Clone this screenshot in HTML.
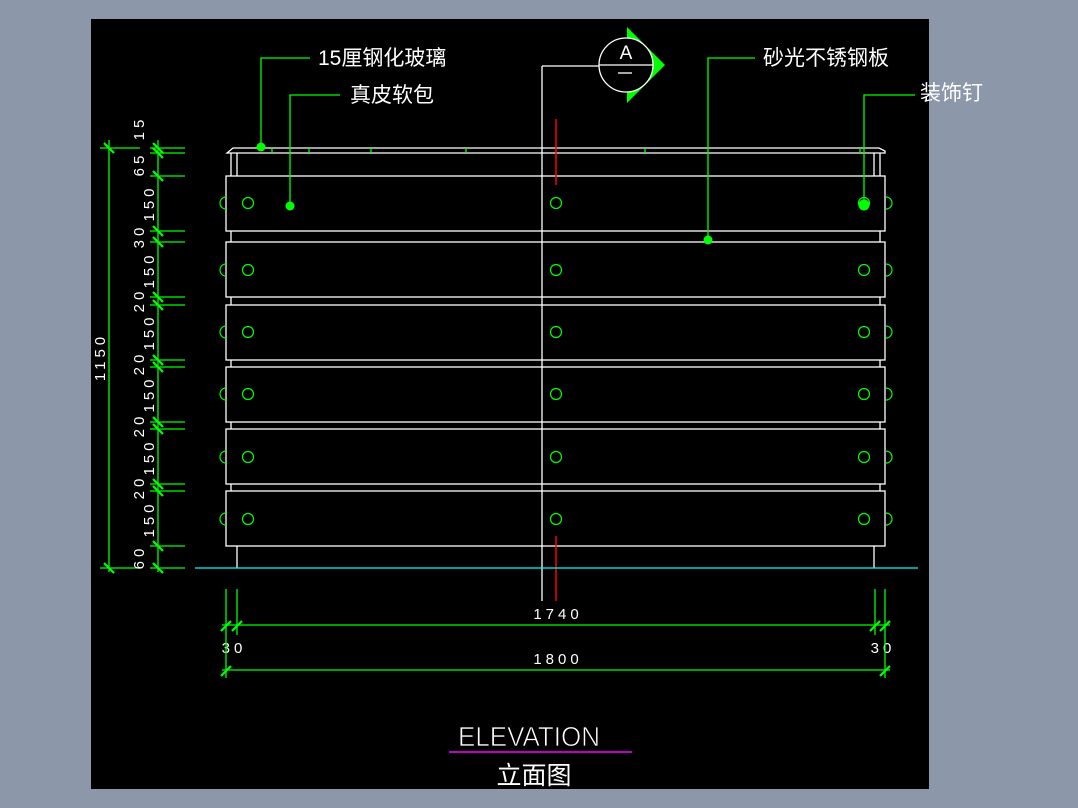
<!DOCTYPE html>
<html><head><meta charset="utf-8"><style>
html,body{margin:0;padding:0;background:#8c97a9;}
svg{display:block}
text{font-family:"Liberation Sans","Noto Sans CJK SC",sans-serif;fill:#fff}
.d{font-size:15px;letter-spacing:4px}
</style></head><body>
<svg width="1078" height="808" viewBox="0 0 1078 808" xmlns="http://www.w3.org/2000/svg">
<defs>
<g id="row"><circle cx="248" cy="0" r="5.5"/><circle cx="556" cy="0" r="5.5"/><circle cx="864" cy="0" r="5.5"/>
<path d="M226 -6 A6 6 0 0 0 226 6"/><path d="M886 -6 A6 6 0 0 1 886 6"/></g>
</defs>
<rect x="0" y="0" width="1078" height="808" fill="#8c97a9"/>
<rect x="91" y="19" width="838" height="770" fill="#000"/>
<g stroke="#fff" stroke-width="1.3" fill="none">
<path d="M227 153 L233 148 L879 148 L885 151 L885 153 Z"/>
<line x1="231" y1="153" x2="231" y2="176"/><line x1="237" y1="153" x2="237" y2="176"/>
<line x1="874" y1="153" x2="874" y2="176"/><line x1="880" y1="153" x2="880" y2="176"/>
<line x1="231" y1="231" x2="231" y2="242"/><line x1="880" y1="231" x2="880" y2="242"/>
<line x1="231" y1="297" x2="231" y2="305"/><line x1="880" y1="297" x2="880" y2="305"/>
<line x1="231" y1="360" x2="231" y2="367"/><line x1="880" y1="360" x2="880" y2="367"/>
<line x1="231" y1="422" x2="231" y2="429"/><line x1="880" y1="422" x2="880" y2="429"/>
<line x1="231" y1="484" x2="231" y2="491"/><line x1="880" y1="484" x2="880" y2="491"/>
<line x1="237" y1="546" x2="237" y2="568"/><line x1="874" y1="546" x2="874" y2="568"/>
<rect x="226" y="176" width="659" height="55"/>
<rect x="226" y="242" width="659" height="55"/>
<rect x="226" y="305" width="659" height="55"/>
<rect x="226" y="367" width="659" height="55"/>
<rect x="226" y="429" width="659" height="55"/>
<rect x="226" y="491" width="659" height="55"/>
<line x1="542" y1="66" x2="542" y2="601"/>
<line x1="542" y1="66" x2="650" y2="66"/>
</g>
<g stroke="#f00" stroke-width="1.5">
<line x1="556" y1="119" x2="556" y2="185"/><line x1="556" y1="536" x2="556" y2="601"/>
</g>
<line x1="195" y1="568" x2="918" y2="568" stroke="#0ff" stroke-width="1.3"/>
<g stroke="#0f0" stroke-width="1.3">
<line x1="272" y1="148" x2="272" y2="153"/><line x1="309" y1="148" x2="309" y2="153"/>
<line x1="371" y1="148" x2="371" y2="153"/><line x1="466" y1="148" x2="466" y2="153"/>
<line x1="645" y1="148" x2="645" y2="153"/><line x1="860" y1="148" x2="860" y2="153"/>
</g>
<g stroke="#0f0" stroke-width="1.2" fill="none">
<use href="#row" y="203"/><use href="#row" y="270"/><use href="#row" y="332"/>
<use href="#row" y="394"/><use href="#row" y="457"/><use href="#row" y="519"/>
</g>
<g stroke="#0f0" stroke-width="1.3" fill="none">
<polyline points="310,58 261,58 261,147"/>
<polyline points="340,95 290,95 290,206"/>
<polyline points="755,58 708,58 708,240"/>
<polyline points="915,95 864,95 864,205"/>
</g>
<g fill="#0f0"><circle cx="261" cy="147" r="4.5"/><circle cx="290" cy="206" r="4.5"/><circle cx="708" cy="240" r="4.5"/><circle cx="864" cy="205" r="5.5"/></g>
<text x="318" y="65" font-size="21">15厘钢化玻璃</text>
<text x="350" y="102" font-size="21">真皮软包</text>
<text x="763" y="65" font-size="21">砂光不锈钢板</text>
<text x="920" y="100" font-size="21">装饰钉</text>
<polygon points="627,27 665,65 627,103" fill="#0f0"/>
<circle cx="626" cy="65" r="27" fill="#000" stroke="#fff" stroke-width="1.3"/>
<line x1="599" y1="65" x2="654" y2="65" stroke="#fff" stroke-width="1.3"/>
<text x="626" y="59" font-size="19" text-anchor="middle" font-family="Liberation Serif,serif">A</text>
<line x1="618" y1="73" x2="632" y2="73" stroke="#fff" stroke-width="1.3"/>
<g stroke="#0f0" stroke-width="1.3">
<line x1="158" y1="140" x2="158" y2="572"/>
<line x1="109" y1="140" x2="109" y2="572"/>
<line x1="100" y1="148" x2="140" y2="148"/><line x1="100" y1="568" x2="140" y2="568"/>
<line x1="150" y1="148" x2="185" y2="148"/><line x1="150" y1="153" x2="185" y2="153"/>
<line x1="150" y1="176" x2="185" y2="176"/><line x1="150" y1="231" x2="185" y2="231"/>
<line x1="150" y1="242" x2="185" y2="242"/><line x1="150" y1="297" x2="185" y2="297"/>
<line x1="150" y1="305" x2="185" y2="305"/><line x1="150" y1="360" x2="185" y2="360"/>
<line x1="150" y1="367" x2="185" y2="367"/><line x1="150" y1="422" x2="185" y2="422"/>
<line x1="150" y1="429" x2="185" y2="429"/><line x1="150" y1="484" x2="185" y2="484"/>
<line x1="150" y1="491" x2="185" y2="491"/><line x1="150" y1="546" x2="185" y2="546"/>
<line x1="150" y1="568" x2="185" y2="568"/>
</g>
<g stroke="#0f0" stroke-width="2.2">
<path d="M153 143 l10 10 M153 148 l10 10 M153 171 l10 10 M153 226 l10 10 M153 237 l10 10 M153 292 l10 10 M153 300 l10 10 M153 355 l10 10 M153 362 l10 10 M153 417 l10 10 M153 424 l10 10 M153 479 l10 10 M153 486 l10 10 M153 541 l10 10 M153 563 l10 10 M104 143 l10 10 M104 563 l10 10"/>
<path d="M221 631 l10 -10 M232 631 l10 -10 M870 631 l10 -10 M880 631 l10 -10 M221 676 l10 -10 M880 676 l10 -10"/>
</g>
<g class="d">
<text transform="translate(144,128) rotate(-90)" text-anchor="middle">15</text>
<text transform="translate(144,164) rotate(-90)" text-anchor="middle">65</text>
<text transform="translate(154,203) rotate(-90)" text-anchor="middle">150</text>
<text transform="translate(144,236) rotate(-90)" text-anchor="middle">30</text>
<text transform="translate(154,270) rotate(-90)" text-anchor="middle">150</text>
<text transform="translate(144,300) rotate(-90)" text-anchor="middle">20</text>
<text transform="translate(154,332) rotate(-90)" text-anchor="middle">150</text>
<text transform="translate(144,363) rotate(-90)" text-anchor="middle">20</text>
<text transform="translate(154,394) rotate(-90)" text-anchor="middle">150</text>
<text transform="translate(144,425) rotate(-90)" text-anchor="middle">20</text>
<text transform="translate(154,457) rotate(-90)" text-anchor="middle">150</text>
<text transform="translate(144,487) rotate(-90)" text-anchor="middle">20</text>
<text transform="translate(154,519) rotate(-90)" text-anchor="middle">150</text>
<text transform="translate(144,557) rotate(-90)" text-anchor="middle">60</text>
<text transform="translate(105,357) rotate(-90)" text-anchor="middle">1150</text>
<text x="558" y="619" text-anchor="middle">1740</text>
<text x="558" y="664" text-anchor="middle">1800</text>
<text x="234" y="653" text-anchor="middle">30</text>
<text x="883" y="653" text-anchor="middle">30</text>
</g>
<g stroke="#0f0" stroke-width="1.3">
<line x1="226" y1="589" x2="226" y2="678"/><line x1="237" y1="589" x2="237" y2="635"/>
<line x1="875" y1="589" x2="875" y2="635"/><line x1="885" y1="589" x2="885" y2="678"/>
<line x1="222" y1="625" x2="890" y2="625"/>
<line x1="222" y1="670" x2="890" y2="670"/>
</g>
<text x="458" y="746" font-size="28" textLength="142" lengthAdjust="spacingAndGlyphs" stroke="#000" stroke-width="0.8">ELEVATION</text>
<line x1="449" y1="752" x2="632" y2="752" stroke="#f0f" stroke-width="1.5"/>
<text x="534" y="784" font-size="25" text-anchor="middle">立面图</text>
</svg>
</body></html>
